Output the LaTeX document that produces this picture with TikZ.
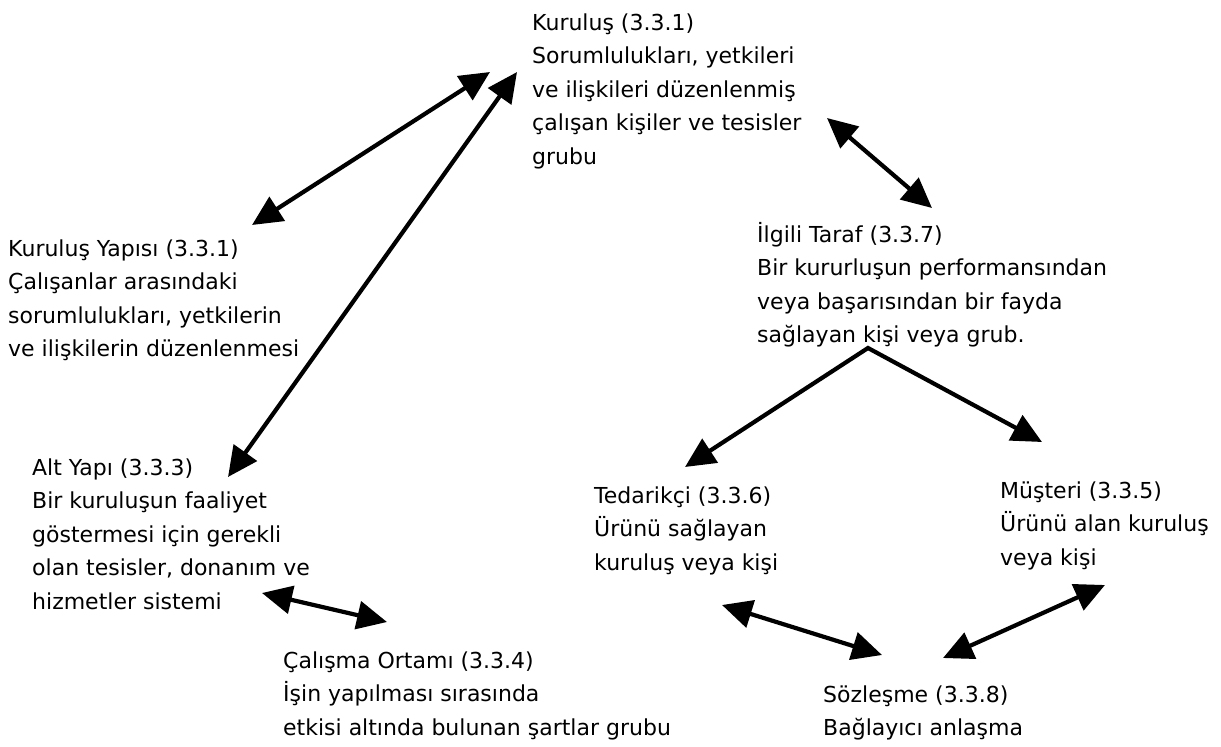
\documentclass[tikz,border=0pt]{standalone}
\usepackage{fontspec}
\setmainfont{DejaVu Sans}
\usetikzlibrary{arrows.meta}

\begin{document}
\begin{tikzpicture}[x=1pt,y=-1pt,
  blurb/.style={anchor=base west, inner sep=0pt,
    font=\fontsize{22}{33.5}\selectfont},
  link/.style={line width=4.2pt, black,
    {Triangle[length=30pt,width=28pt]}-{Triangle[length=30pt,width=28pt]}},
  fork/.style={line width=4.2pt, black, line join=miter,
    {Triangle[length=30pt,width=28pt]}-{Triangle[length=30pt,width=28pt]}}]

\useasboundingbox (0,0) rectangle (1221,747);

% definitions, each block set with its first baseline at the given point
\node[blurb] (kur) at (532,30) {\begin{tabular}[t]{@{}l@{}}
  Kuruluş (3.3.1)\\ Sorumlulukları, yetkileri\\ ve ilişkileri düzenlenmiş\\
  çalışan kişiler ve tesisler\\ grubu\end{tabular}};

\node[blurb] (kys) at (8,256) {\begin{tabular}[t]{@{}l@{}}
  Kuruluş Yapısı (3.3.1)\\ Çalışanlar arasındaki\\
  sorumlulukları, yetkilerin\\ ve ilişkilerin düzenlenmesi\end{tabular}};

\node[blurb] (ilg) at (757,242) {\begin{tabular}[t]{@{}l@{}}
  İlgili Taraf (3.3.7)\\ Bir kururluşun performansından\\
  veya başarısından bir fayda\\ sağlayan kişi veya grub.\end{tabular}};

\node[blurb] (alt) at (32,475) {\begin{tabular}[t]{@{}l@{}}
  Alt Yapı (3.3.3)\\ Bir kuruluşun faaliyet\\ göstermesi için gerekli\\
  olan tesisler, donanım ve\\ hizmetler sistemi\end{tabular}};

\node[blurb] (ted) at (594,503) {\begin{tabular}[t]{@{}l@{}}
  Tedarikçi (3.3.6)\\ Ürünü sağlayan\\ kuruluş veya kişi\end{tabular}};

\node[blurb] (mus) at (1000,498) {\begin{tabular}[t]{@{}l@{}}
  Müşteri (3.3.5)\\ Ürünü alan kuruluş\\ veya kişi\end{tabular}};

\node[blurb] (cal) at (283,668) {\begin{tabular}[t]{@{}l@{}}
  Çalışma Ortamı (3.3.4)\\ İşin yapılması sırasında\\
  etkisi altında bulunan şartlar grubu\end{tabular}};

\node[blurb] (soz) at (823,702) {\begin{tabular}[t]{@{}l@{}}
  Sözleşme (3.3.8)\\ Bağlayıcı anlaşma\end{tabular}};

% relations between the definitions
\draw[link] ([shift={(-42,42)}]kur.base west) -- ([shift={(244,-31)}]kys.base west);
\draw[link] ([shift={(-15,42)}]kur.base west) -- ([shift={(196,2)}]alt.base west);
\draw[link] ([shift={(295,88)}]kur.base west) -- ([shift={(175,-34)}]ilg.base west);
\draw[fork] ([shift={(91,-36)}]ted.base west) -- ([shift={(111,106)}]ilg.base west)
  -- ([shift={(42,-56)}]mus.base west);
\draw[link] ([shift={(230,118)}]alt.base west) -- ([shift={(104,-46)}]cal.base west);
\draw[link] ([shift={(128,102)}]ted.base west) -- ([shift={(59,-47)}]soz.base west);
\draw[link] ([shift={(105,87)}]mus.base west) -- ([shift={(120,-44)}]soz.base west);

\end{tikzpicture}
\end{document}
